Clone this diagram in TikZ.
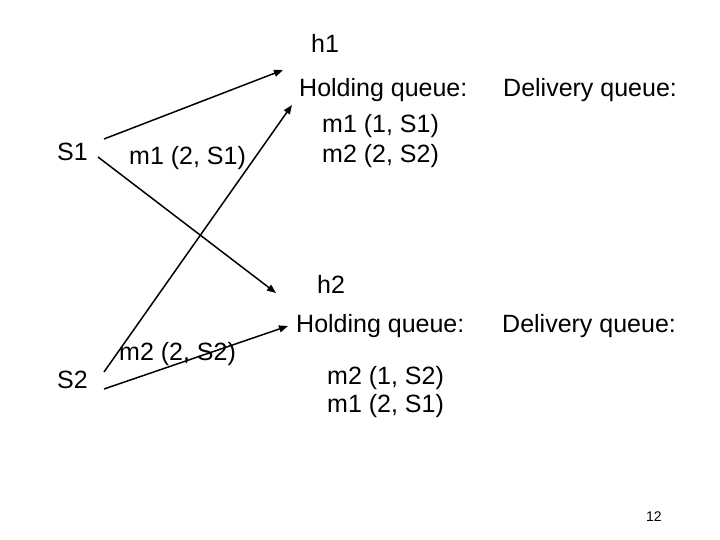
\documentclass[tikz,border=0pt]{standalone}
\usepackage{fontspec}
\setmainfont{Liberation Sans}
\usetikzlibrary{arrows.meta}
\begin{document}
\begin{tikzpicture}[x=1pt,y=-1pt,
  lbl/.style={anchor=base west,inner sep=0pt,font=\fontsize{25}{29}\selectfont},
  small/.style={anchor=base west,inner sep=0pt,font=\fontsize{14}{16}\selectfont},
  msg/.style={line width=1.5pt,-{Triangle[length=9pt,width=7pt]}}]
\useasboundingbox (0,0) rectangle (720,540);
% hosts
\node[lbl] (s1) at (57,161) {S1};
\node[lbl] (s2) at (57,388) {S2};
\node[lbl] (h1) at (311,53) {h1};
\node[lbl] (h2) at (317,293) {h2};
% message labels
\node[lbl] (m1lab) at (129,165) {m1 (2, S1)};
\node[lbl] (m2lab) at (119,360) {m2 (2, S2)};
% h1 queues
\node[lbl] (hq1) at (299,97) {Holding queue:};
\node[lbl] (dq1) at (503,97) {Delivery queue:};
\node[lbl] (h1a) at (322,133) {m1 (1, S1)};
\node[lbl] (h1b) at (322,163) {m2 (2, S2)};
% h2 queues
\node[lbl] (hq2) at (296,332) {Holding queue:};
\node[lbl] (dq2) at (502,332) {Delivery queue:};
\node[lbl] (h2a) at (327,384) {m2 (1, S2)};
\node[lbl] (h2b) at (327,412) {m1 (2, S1)};
% page number
\node[small] (pg) at (646,521) {12};
% connector end points
\coordinate (a1s) at (104,139);
\coordinate (a1e) at (283,70);
\coordinate (a2s) at (104,372);
\coordinate (a2e) at (292,105);
\coordinate (a3s) at (98,157);
\coordinate (a3e) at (276,293);
\coordinate (a4s) at (104,389);
\coordinate (a4e) at (288,326);
\draw[msg] (a1s) -- (a1e);
\draw[msg] (a2s) -- (a2e);
\draw[msg] (a3s) -- (a3e);
\draw[msg] (a4s) -- (a4e);
\end{tikzpicture}
\end{document}
